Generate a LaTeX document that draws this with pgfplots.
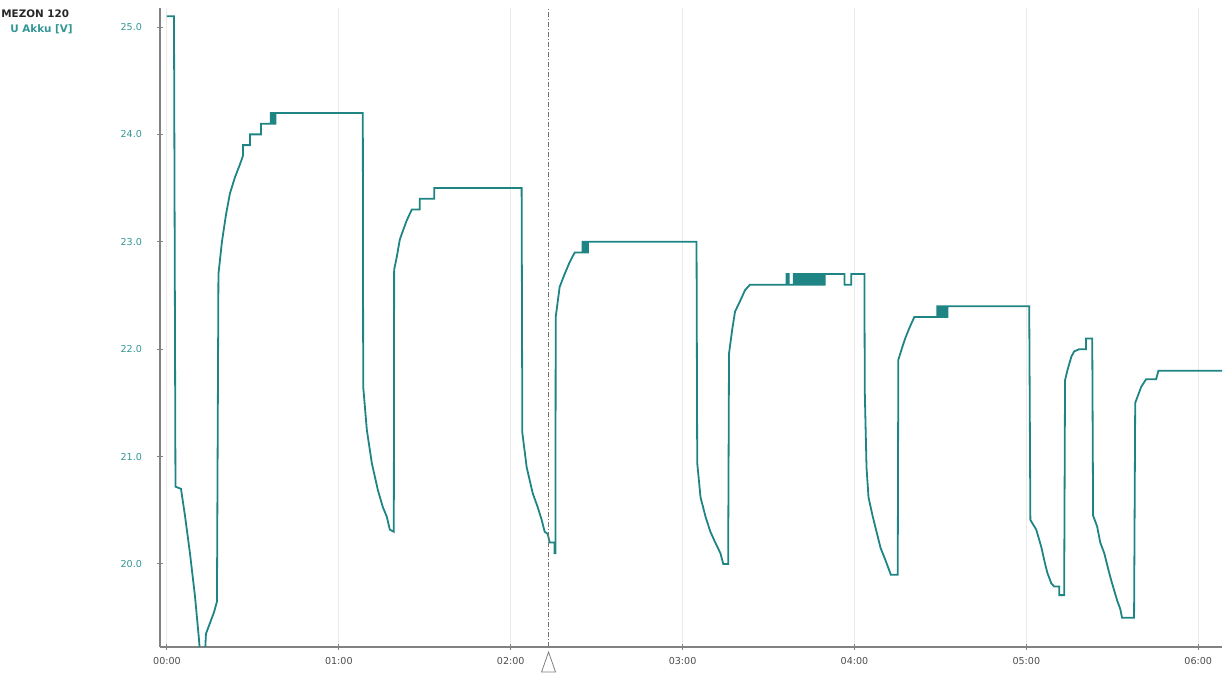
\documentclass[border=0pt]{standalone}
\usepackage{fontspec}
\setmainfont{DejaVu Sans}
\usepackage{pgfplots}
\pgfplotsset{compat=1.18}
\definecolor{curve}{RGB}{30,132,132}
\definecolor{lbl}{RGB}{50,150,150}
\definecolor{axisgray}{RGB}{130,130,130}
\begin{document}
\begin{tikzpicture}
\path[use as bounding box] (0,0) rectangle (613bp,339.5bp);
\begin{axis}[
  at={(80bp,16bp)}, anchor=south west,
  scale only axis, width=531bp, height=319.5bp,
  xmin=-2.44, xmax=368.3, ymin=19.227, ymax=25.177,
  axis x line*=bottom, axis y line*=left,
  axis line style={axisgray, line width=0.9bp, -},
  xtick={0,60,120,180,240,300,360},
  xticklabels={00:00,01:00,02:00,03:00,04:00,05:00,06:00},
  ytick={20,21,22,23,24,25},
  yticklabel={\pgfmathprintnumber[fixed,precision=1,zerofill]{\tick}},
  /pgf/number format/assume math mode=true,
  xmajorgrids,
  major grid style={black!8, line width=0.5bp},
  tick style={axisgray, line width=0.5bp},
  tick align=center, major tick length=3bp,
  xticklabel style={font=\fontsize{4.8}{5}\selectfont, text=black!70},
  yticklabel style={font=\fontsize{4.8}{5}\selectfont, text=lbl, xshift=-4bp},
]
\addplot[curve, line width=0.9bp] coordinates {
(0,25.1) (2.44,25.1) (2.96,20.72) (4.88,20.7) (6.28,20.45) (8.02,20.1) (9.77,19.7) (11.16,19.3) (11.6,19.15) (13.25,19.15) (13.6,19.35) (15.0,19.45) (16.4,19.55) (17.44,19.65) (17.96,22.7) (19.18,23.0) (20.58,23.25) (21.97,23.45) (23.72,23.6) (25.46,23.72) (26.5,23.8) (26.5,23.9) (29.0,23.9) (29.0,24.0) (32.8,24.0) (32.8,24.1) (36.27,24.1) (36.27,24.2) (36.7,24.2) (36.7,24.1) (37.1,24.1) (37.1,24.2) (37.5,24.2) (37.5,24.1) (37.9,24.1) (37.9,24.2)
(68.36,24.2) (68.5,21.65) (69.76,21.25) (71.5,20.94) (73.6,20.69) (75.34,20.53) (76.74,20.44) (77.78,20.32) (79.18,20.3) (79.3,22.74) (80.22,22.86) (81.27,23.02) (82.32,23.1) (83.71,23.2) (85.46,23.3) (88.25,23.3) (88.25,23.4) (93.3,23.4) (93.3,23.5)
(123.8,23.5) (124.05,21.22) (125.57,20.9) (127.66,20.66) (129.4,20.53) (130.8,20.41) (131.85,20.3) (132.9,20.28) (133.6,20.2) (135.3,20.2) (135.3,20.1) (135.6,20.1) (135.7,22.3) (137.08,22.58) (138.82,22.7) (140.57,22.81) (142.31,22.9) (145.1,22.9) (145.1,23.0) (145.5,23.0) (145.5,22.9) (146.0,22.9) (146.0,23.0) (146.5,23.0) (146.5,22.9) (147.0,22.9) (147.0,23.0)
(184.86,23.0) (185.1,20.94) (186.26,20.62) (188.0,20.44) (189.7,20.3) (191.4,20.2) (193.2,20.1) (194.2,20.0) (195.9,20.0) (196.2,21.96) (197.3,22.18) (198.3,22.35) (200.1,22.45) (201.8,22.55) (203.5,22.6)
(216.3,22.6) (216.3,22.7) (217.0,22.7) (217.0,22.6) (218.8,22.6) (218.8,22.7) (219.4,22.7) (219.4,22.6) (220.0,22.6) (220.0,22.7) (220.6,22.7) (220.6,22.6) (221.2,22.6) (221.2,22.7) (221.8,22.7) (221.8,22.6) (222.4,22.6) (222.4,22.7) (223.0,22.7) (223.0,22.6) (223.6,22.6) (223.6,22.7) (224.2,22.7) (224.2,22.6) (224.8,22.6) (224.8,22.7) (225.4,22.7) (225.4,22.6) (226.0,22.6) (226.0,22.7) (226.6,22.7) (226.6,22.6) (227.2,22.6) (227.2,22.7) (227.8,22.7) (227.8,22.6) (228.4,22.6) (228.4,22.7) (229.0,22.7) (229.0,22.6) (229.6,22.6) (229.6,22.7)
(236.5,22.7) (236.5,22.6) (238.9,22.6) (238.9,22.7) (243.46,22.7)
(243.6,21.6) (244.2,20.9) (244.9,20.62) (246.3,20.45) (247.7,20.3) (249.1,20.15) (250.6,20.05) (252.0,19.95) (252.7,19.9) (255.1,19.9) (255.3,21.9) (256.7,22.02) (257.7,22.1) (259.2,22.2) (260.9,22.3) (268.9,22.3) (268.9,22.4) (269.5,22.4) (269.5,22.3) (270.1,22.3) (270.1,22.4) (270.7,22.4) (270.7,22.3) (271.3,22.3) (271.3,22.4) (271.9,22.4) (271.9,22.3) (272.5,22.3) (272.5,22.4)
(301.0,22.4) (301.4,20.41) (303.45,20.32) (305.2,20.16) (306.2,20.04) (307.3,19.92) (308.7,19.82) (309.7,19.79) (311.5,19.79) (311.5,19.71) (313.2,19.71) (313.5,21.71) (314.3,21.8) (315.7,21.93) (316.7,21.98) (318.5,22.0) (320.8,22.0) (320.8,22.1) (323.0,22.1) (323.3,20.45) (324.7,20.35) (325.8,20.2) (327.2,20.1) (328.6,19.95) (329.6,19.85) (330.7,19.75) (331.7,19.66) (332.8,19.58) (333.4,19.5) (337.6,19.5) (338.0,21.5) (338.7,21.55) (340.1,21.65) (341.8,21.72) (345.3,21.72) (346.1,21.8) (368.3,21.8)
};
\draw[black!55, dash pattern=on 2.5bp off 1bp on 0.5bp off 1bp, line width=0.4bp] (axis cs:133.2,19.227) -- (axis cs:133.2,25.177);
\coordinate (tri) at (axis cs:133.2,19.227);
\end{axis}
\draw[black!50, line width=0.4bp] ([yshift=-2.5bp]tri) -- ([xshift=-3.5bp,yshift=-12.5bp]tri) -- ([xshift=3.5bp,yshift=-12.5bp]tri) -- cycle;
\node[anchor=west, inner sep=0pt, font=\bfseries\fontsize{5.2}{6}\selectfont, text=black!85] at (0.5bp,332.5bp) {MEZON 120};
\node[anchor=west, inner sep=0pt, font=\bfseries\fontsize{5.2}{6}\selectfont, text=lbl] at (5bp,325bp) {U Akku [V]};
\end{tikzpicture}
\end{document}
